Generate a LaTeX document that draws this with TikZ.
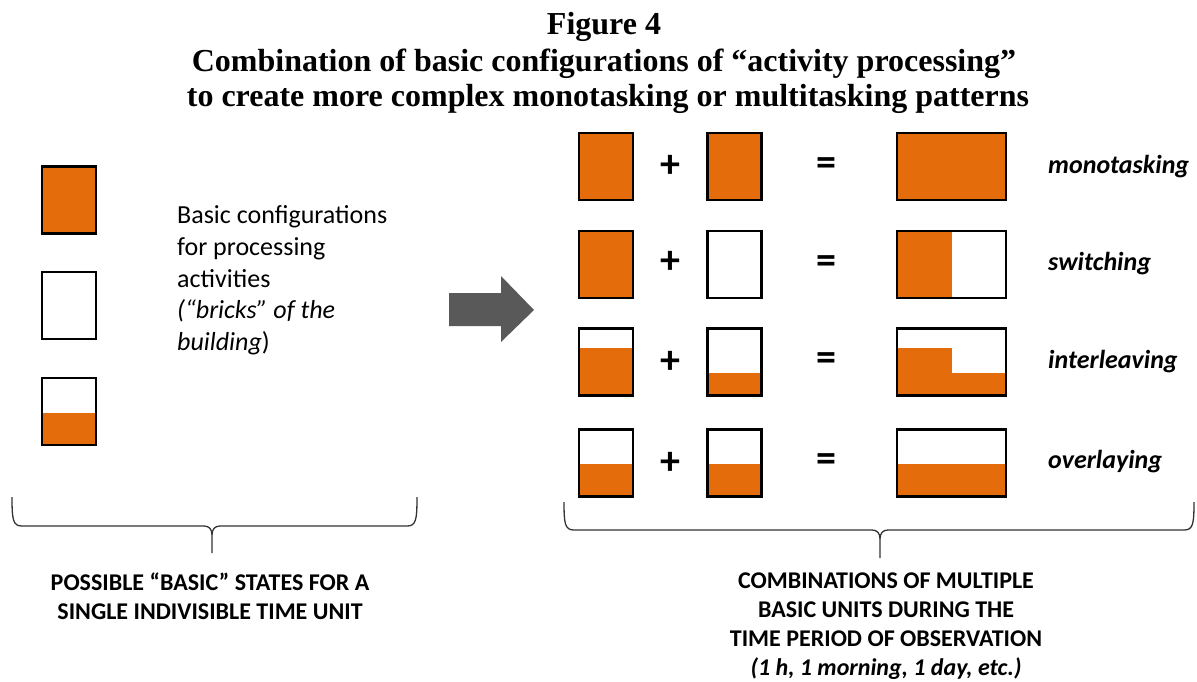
\documentclass[tikz,border=0pt]{standalone}
\usepackage{fontspec}
\setmainfont{Carlito}
\newfontfamily\titlefont{Liberation Serif}
\usetikzlibrary{calc}
\definecolor{org}{HTML}{E46C0A}
\definecolor{arrowgray}{HTML}{595959}
\begin{document}
\begin{tikzpicture}[x=1pt,y=-1pt,
  brick/.style={draw=black, line width=2.6pt, minimum width=54pt, minimum height=67pt, inner sep=0pt, outer sep=0pt},
  wide/.style={brick, minimum width=109pt},
  full/.style={fill=org},
  part/.style={path picture={\fill[org] ([yshift=-#1]path picture bounding box.north west) rectangle (path picture bounding box.south east);}},
  op/.style={font=\fontsize{40}{40}\selectfont\bfseries, inner sep=0pt},
  lab/.style={font=\fontsize{26}{31}\selectfont\bfseries\itshape, anchor=base west, inner sep=0pt},
  body/.style={font=\fontsize{26}{31.7}\selectfont, anchor=base west, inner sep=0pt},
  captext/.style={font=\fontsize{24}{29}\selectfont\bfseries, anchor=base, inner sep=0pt},
  ttl/.style={font=\titlefont\fontsize{32}{37}\selectfont\bfseries, anchor=base, inner sep=0pt},
  brace/.style={draw=black!80, line width=1.3pt},
]
\useasboundingbox (0,0) rectangle (1197,682);

% title
\node[ttl] (title1) at (604,35) {Figure 4};
\node[ttl] (title2) at (604,72) {Combination of basic configurations of “activity processing”};
\node[ttl] (title3) at (608,107) {to create more complex monotasking or multitasking patterns};

% left column bricks
\node[brick, full] (L1) at (69,200) {};
\node[brick] (L2) at (69,305.5) {};
\node[brick, part=35pt] (L3) at (69,411.5) {};

\node[body] (t1) at (177,223) {Basic configurations};
\node[body] (t2) at (177,255) {for processing};
\node[body] (t3) at (177,287) {activities};
\node[body] (t4) at (177,318) {\itshape (“bricks” of the};
\node[body] (t5) at (177,350) {\textit{building})};

% arrow
\fill[arrowgray] (449,293) -- (501,293) -- (501,276) -- (534,310) -- (501,342) -- (501,326) -- (449,326) -- cycle;

% row 1: monotasking
\node[brick, full] (a1) at (606,166.5) {};
\node[op] (p1) at (670,166.5) {+};
\node[brick, full] (b1) at (734.5,166.5) {};
\node[op] (e1) at (826,166.5) {=};
\node[wide, full] (r1) at (951.5,166.5) {};
\node[lab] (l1) at (1048,173) {monotasking};

% row 2: switching
\node[brick, full] (a2) at (606,264.5) {};
\node[op] (p2) at (670,262) {+};
\node[brick] (b2) at (734.5,264.5) {};
\node[op] (e2) at (826,264.5) {=};
\node[wide, path picture={\fill[org] (path picture bounding box.north west) rectangle (path picture bounding box.south);}] (r2) at (951.5,264.5) {};
\node[lab] (l2) at (1048,270) {switching};

% row 3: interleaving
\node[brick, part=19.5pt] (a3) at (606,362) {};
\node[op] (p3) at (670,362) {+};
\node[brick, part=44.5pt] (b3) at (734.5,362) {};
\node[op] (e3) at (826,362) {=};
\node[wide, path picture={
  \fill[org] ([yshift=-19.5pt]path picture bounding box.north west) rectangle ([yshift=-44.6pt]path picture bounding box.north);
  \fill[org] ([yshift=-44.5pt]path picture bounding box.north west) rectangle (path picture bounding box.south east);}] (r3) at (951.5,362) {};
\node[lab] (l3) at (1048,368) {interleaving};

% row 4: overlaying
\node[brick, part=34.5pt] (a4) at (606,463) {};
\node[op] (p4) at (670,463) {+};
\node[brick, part=34.5pt] (b4) at (734.5,463) {};
\node[op] (e4) at (826,463) {=};
\node[wide, part=34.5pt] (r4) at (951.5,463) {};
\node[lab] (l4) at (1048,468) {overlaying};

% braces
\draw[brace] (12,497) .. controls (12,520) and (13,526) .. (22,526) -- (204,526)
  .. controls (209,526) and (212,529) .. (212,535) -- (212,553)
  (212,535) .. controls (212,529) and (215,526) .. (220,526) -- (407,526)
  .. controls (416,526) and (417,520) .. (417,497);
\draw[brace] (564,502) .. controls (564,524) and (565,530) .. (574,530) -- (872,530)
  .. controls (877,530) and (880,533) .. (880,539) -- (880,558)
  (880,539) .. controls (880,533) and (883,530) .. (888,530) -- (1184,530)
  .. controls (1193,530) and (1194,524) .. (1194,502);

% captions
\node[captext] (c1) at (210,590) {POSSIBLE “BASIC” STATES FOR A};
\node[captext] (c2) at (210,619) {SINGLE INDIVISIBLE TIME UNIT};
\node[captext] (d1) at (886,588) {COMBINATIONS OF MULTIPLE};
\node[captext] (d2) at (886,617) {BASIC UNITS DURING THE};
\node[captext] (d3) at (886,646) {TIME PERIOD OF OBSERVATION};
\node[captext] (d4) at (886,675) {\itshape (1 h, 1 morning, 1 day, etc.)};
\end{tikzpicture}
\end{document}
